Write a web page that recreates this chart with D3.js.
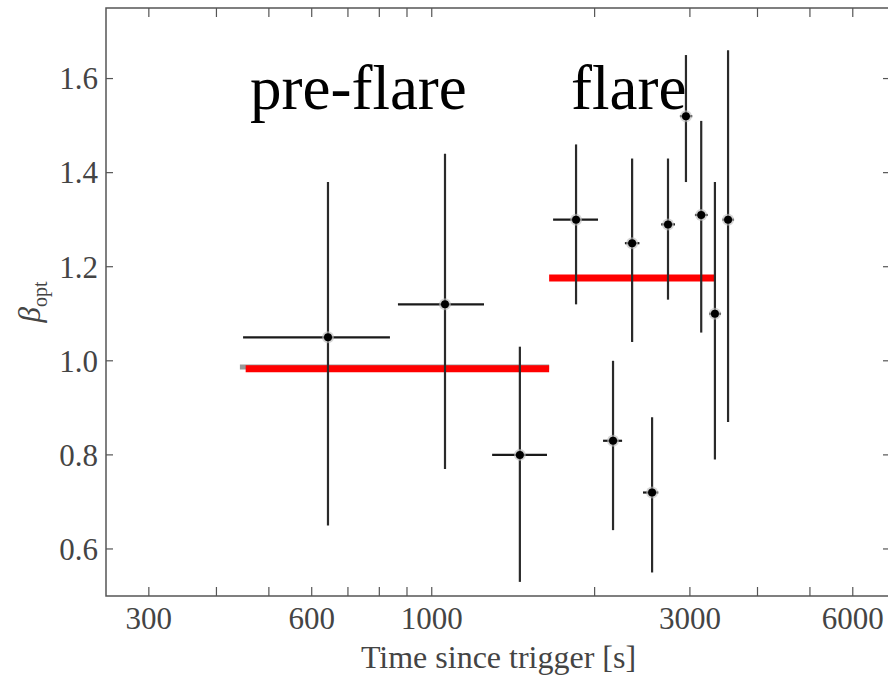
<!DOCTYPE html>
<html>
<head>
<meta charset="utf-8">
<script src="https://cdn.jsdelivr.net/npm/d3@7"></script>
<style>
  html, body { margin: 0; padding: 0; background: #fff; }
  svg { display: block; }
</style>
</head>
<body>
<svg id="chart" width="888" height="677"></svg>
<script>
// Optical spectral index per epoch
const times  = [643, 1058, 1455, 1848, 2163, 2346, 2554, 2733, 2950, 3148, 3337, 3529];
const tLo    = [448, 866, 1293, 1676, 2073, 2275, 2457, 2655, 2875, 3065, 3255, 3445];
const tHi    = [837, 1249, 1633, 2029, 2248, 2420, 2622, 2815, 3030, 3235, 3425, 3620];
const beta   = [1.05, 1.12, 0.80, 1.30, 0.83, 1.25, 0.72, 1.29, 1.52, 1.31, 1.10, 1.30];
const betaLo = [0.65, 0.77, 0.53, 1.12, 0.64, 1.04, 0.55, 1.13, 1.38, 1.06, 0.79, 0.87];
const betaHi = [1.38, 1.44, 1.03, 1.46, 1.00, 1.43, 0.88, 1.43, 1.65, 1.51, 1.38, 1.66];

// Phase averages
const phaseNames = ["pre-flare", "flare"];
const phaseStart = [453, 1648];
const phaseEnd   = [1648, 3336];
const phaseBeta  = [0.983, 1.176];
// Reference fit under the pre-flare average
const refStart = 442, refEnd = 1648, refBeta = 0.987;

// Axis ticks
const xTicks      = [300, 400, 500, 600, 700, 800, 900, 1000, 2000, 3000, 4000, 5000, 6000];
const xTickLabels = [300, 600, 1000, 3000, 6000];
const yTicks      = [0.6, 0.8, 1.0, 1.2, 1.4, 1.6];

const svg = d3.select("#chart");
const L = 106, R = 889, T = 8, B = 596;

const x = d3.scaleLog().domain([250, 7000]).range([L, R]);
const y = d3.scaleLinear().domain([0.5, 1.75]).range([B, T]);

const serif = "'Liberation Serif', 'Times New Roman', serif";
const axisColor = "#555";
const textColor = "#444";

// Frame
svg.append("rect")
  .attr("x", L).attr("y", T).attr("width", R - L).attr("height", B - T)
  .attr("fill", "none").attr("stroke", axisColor).attr("stroke-width", 1.5);

// Inward ticks on all four sides
const g = svg.append("g");
g.selectAll(".xtb").data(xTicks).join("line")
  .attr("x1", d => x(d)).attr("x2", d => x(d))
  .attr("y1", B).attr("y2", B - 9)
  .attr("stroke", axisColor).attr("stroke-width", 1.2);
g.selectAll(".xtt").data(xTicks).join("line")
  .attr("x1", d => x(d)).attr("x2", d => x(d))
  .attr("y1", T).attr("y2", T + 9)
  .attr("stroke", axisColor).attr("stroke-width", 1.2);
g.selectAll(".ytl").data(yTicks).join("line")
  .attr("x1", L).attr("x2", L + 7)
  .attr("y1", d => y(d)).attr("y2", d => y(d))
  .attr("stroke", axisColor).attr("stroke-width", 1.2);
g.selectAll(".ytr").data(yTicks).join("line")
  .attr("x1", R - 6).attr("x2", R)
  .attr("y1", d => y(d)).attr("y2", d => y(d))
  .attr("stroke", axisColor).attr("stroke-width", 1.2);

// Tick labels
svg.append("g").selectAll("text").data(xTickLabels).join("text")
  .attr("x", d => x(d)).attr("y", B + 33)
  .attr("text-anchor", "middle")
  .attr("font-family", serif).attr("font-size", 31)
  .attr("fill", textColor)
  .text(d => d);
svg.append("g").selectAll("text").data(yTicks).join("text")
  .attr("x", L - 8).attr("y", d => y(d))
  .attr("dy", "0.35em")
  .attr("text-anchor", "end")
  .attr("font-family", serif).attr("font-size", 31)
  .attr("fill", textColor)
  .text(d => d3.format(".1f")(d));

// Axis titles
svg.append("text")
  .attr("x", (L + R) / 2 + 1).attr("y", 668)
  .attr("text-anchor", "middle")
  .attr("font-family", serif).attr("font-size", 32)
  .attr("fill", textColor)
  .text("Time since trigger [s]");

const yl = svg.append("text")
  .attr("transform", `translate(40, ${(T + B) / 2}) rotate(-90)`)
  .attr("text-anchor", "middle")
  .attr("font-family", serif)
  .attr("fill", textColor);
yl.append("tspan").attr("font-size", 31).attr("font-style", "italic").text("β");
yl.append("tspan").attr("font-size", 20).attr("dy", 7).text("opt");

// Phase averages
svg.append("line")
  .attr("x1", x(refStart)).attr("x2", x(refEnd))
  .attr("y1", y(refBeta)).attr("y2", y(refBeta))
  .attr("stroke", "#999").attr("stroke-width", 5);
svg.append("g").selectAll("line").data(phaseBeta).join("line")
  .attr("x1", (d, i) => x(phaseStart[i])).attr("x2", (d, i) => x(phaseEnd[i]))
  .attr("y1", d => y(d)).attr("y2", d => y(d))
  .attr("stroke", "#ff0000").attr("stroke-width", 7);

// Error bars
const pts = times.map((t, i) => ({t, lo: tLo[i], hi: tHi[i], b: beta[i], bl: betaLo[i], bh: betaHi[i]}));
const eb = svg.append("g");
eb.selectAll(".v").data(pts).join("line")
  .attr("x1", d => x(d.t)).attr("x2", d => x(d.t))
  .attr("y1", d => y(d.bl)).attr("y2", d => y(d.bh))
  .attr("stroke", "#2a2a2a").attr("stroke-width", 2.2);
eb.selectAll(".h").data(pts).join("line")
  .attr("x1", d => x(d.lo)).attr("x2", d => x(d.hi))
  .attr("y1", d => y(d.b)).attr("y2", d => y(d.b))
  .attr("stroke", "#1a1a1a").attr("stroke-width", 2.2);

// Markers with a soft halo
eb.selectAll(".halo").data(pts).join("circle")
  .attr("cx", d => x(d.t)).attr("cy", d => y(d.b)).attr("r", 6)
  .attr("fill", "#bbb").attr("opacity", 0.6);
eb.selectAll(".dot").data(pts).join("circle")
  .attr("cx", d => x(d.t)).attr("cy", d => y(d.b)).attr("r", 4)
  .attr("fill", "#000");

// Phase names
const labelX = [250, 571];
svg.append("g").selectAll("text").data(phaseNames).join("text")
  .attr("x", (d, i) => labelX[i]).attr("y", 109)
  .attr("font-family", "'Liberation Serif', 'Times New Roman', serif")
  .attr("font-size", 63)
  .attr("fill", "#000")
  .text(d => d);
</script>
</body>
</html>
